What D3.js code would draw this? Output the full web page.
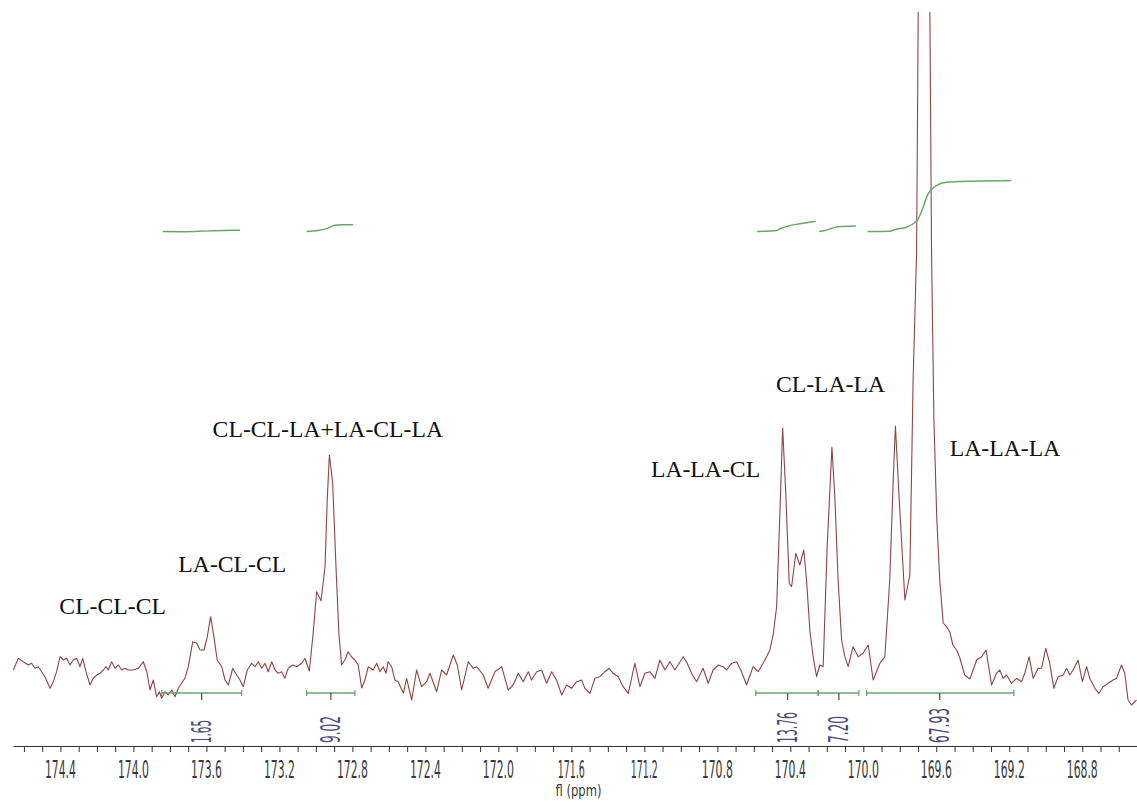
<!DOCTYPE html>
<html>
<head>
<meta charset="utf-8">
<script src="https://cdn.jsdelivr.net/npm/d3@7"></script>
<style>
  body { margin: 0; background: #fff; }
  svg { display: block; }
</style>
</head>
<body>
<svg width="1137" height="802"></svg>
<script>
// 13C NMR carbonyl region (ppm / relative intensity)
const ppm = [174.658,174.631,174.604,174.576,174.558,174.539,174.521,174.503,174.485,174.457,174.439,174.421,174.402,174.384,174.366,174.348,174.330,174.311,174.293,174.278,174.260,174.238,174.220,174.201,174.183,174.165,174.150,174.138,174.119,174.101,174.083,174.064,174.046,174.028,174.001,173.973,173.946,173.927,173.909,173.891,173.873,173.858,173.845,173.827,173.809,173.790,173.772,173.754,173.736,173.718,173.699,173.675,173.653,173.635,173.613,173.595,173.577,173.559,173.541,173.516,173.498,173.480,173.456,173.434,173.416,173.398,173.376,173.352,173.334,173.316,173.297,173.279,173.261,173.242,173.224,173.206,173.188,173.170,173.152,173.127,173.105,173.078,173.060,173.036,173.015,172.996,172.972,172.950,172.938,172.926,172.908,172.890,172.874,172.859,172.841,172.823,172.804,172.786,172.768,172.749,172.731,172.713,172.686,172.667,172.649,172.631,172.616,172.604,172.585,172.567,172.549,172.521,172.503,172.475,172.448,172.421,172.393,172.375,172.338,172.311,172.284,172.247,172.225,172.201,172.165,172.138,172.119,172.083,172.056,172.019,171.982,171.946,171.919,171.891,171.864,171.836,171.818,171.790,171.763,171.736,171.708,171.681,171.653,171.626,171.599,171.571,171.544,171.526,171.498,171.471,171.444,171.416,171.393,171.371,171.343,171.316,171.288,171.252,171.224,171.197,171.170,171.142,171.115,171.087,171.060,171.033,171.015,170.987,170.965,170.941,170.914,170.878,170.850,170.823,170.795,170.768,170.749,170.722,170.694,170.667,170.640,170.604,170.576,170.539,170.512,170.494,170.475,170.457,170.442,170.424,170.406,170.393,170.370,170.348,170.326,170.311,170.293,170.275,170.256,170.238,170.220,170.198,170.172,170.156,170.138,170.119,170.101,170.083,170.056,170.028,170.001,169.973,169.946,169.909,169.882,169.855,169.836,169.824,169.804,169.772,169.745,169.727,169.708,169.699,169.685,169.668,169.652,169.635,169.626,169.613,169.597,169.581,169.562,169.544,169.526,169.509,169.489,169.471,169.444,169.416,169.379,169.352,169.327,169.297,169.270,169.252,169.234,169.215,169.188,169.160,169.133,169.115,169.091,169.069,169.042,169.023,169.000,168.978,168.956,168.932,168.905,168.886,168.868,168.850,168.823,168.799,168.776,168.759,168.731,168.708,168.686,168.658,168.631,168.612,168.585,168.567,168.549,168.530,168.503];
const intensity = [-2.5,3.35,1.65,0,0.85,-1.65,-0.85,-3.35,-5.85,-11.65,-8.35,-3.35,4.15,2.5,3.35,0,2.5,3.35,-0.85,3.35,-3.35,-10,-6.65,-5,-4.15,-2.5,-0.85,-2.5,1.65,-1.65,0,-2.5,-1.65,-2.5,-2.5,-1.65,1.65,-3.35,-12.5,-7.5,-15.85,-13.35,-16.65,-13.35,-15,-12.5,-15.85,-11.65,-9.15,-6.65,-0.85,11.65,10.85,7.5,7.5,14.15,24.15,14.15,2.5,-0.85,-7.5,-10,-1.65,-5,-7.5,-10.85,-2.5,0.85,-0.85,1.65,-1.65,0.85,-3.35,1.65,-2.5,-4.15,-3.35,-6.65,-1.65,0,-0.85,0.85,3.35,-3,15.85,36.65,32.15,49.15,82.5,105,90.85,49.15,15.85,0,2.5,6.65,4,2.5,0,-11.5,-7.5,-0.85,-2.5,0.85,-3.35,-0.85,-4.15,1.65,-0.85,-7.5,-8.35,-14.15,-6.65,-17.5,-2.5,-10.85,-8.35,-4.15,-13.35,-2.5,-5,5,0,-12.5,1.65,-1.65,-0.85,-5,-11.65,-3.35,-0.85,-12.5,-10,-4.15,-8.35,-3.35,-7.5,-3.35,-2.5,-9.15,-3.35,-7.5,-15,-10,-11.65,-8.35,-7.5,-11.65,-14.15,-6.65,-5.85,-3.35,-1.65,-4.15,-5.85,-10.85,-14.15,0.85,-10.85,-4.15,-3.35,-6.65,2.5,-2.5,1.65,-2.5,0,4.15,0.85,-4.15,-8.35,-1.65,-9.15,-2.5,0,-0.85,-2.5,0.85,1.65,-3.35,-10,-0.85,-3.35,2.5,7.5,15,29.15,75.85,118.5,84.15,40.85,39.15,55.85,50,57.5,42.5,17.5,4.15,-5.85,0,-0.85,59.15,108.85,84.15,42.5,12.5,4.15,-0.85,9.15,4.15,5.85,10,-7.5,0.85,4.15,42.5,92.5,119.5,84.15,32.5,45,142.5,206,326,532.5,732.5,532.5,326,206,122.5,72.5,42.5,21,19.15,16.5,10,7.5,3.5,-5,-7,2.5,4.15,7.5,-10,-4.15,-2.5,-6.65,-5,-9.15,-6.65,-8.35,-4.15,4.15,-6.65,-1.65,-1.65,8.35,0.85,-11.65,-5.85,-5,-1.65,-5,-2.5,2.5,-8.35,-0.85,-6.65,-11.65,-14.15,-10.85,-9.15,-7.5,-6.65,0,-4.15,-17.5,-20,-17.5];

// peak assignments: text, left edge (ppm), baseline (intensity)
const peakNames = ["CL-CL-CL", "LA-CL-CL", "CL-CL-LA+LA-CL-LA", "LA-LA-CL", "CL-LA-LA", "LA-LA-LA"];
const peakNamePpm = [174.406, 173.754, 173.566, 171.164, 170.479, 169.526];
const peakNameLevel = [25.5, 46.6, 114.2, 93.9, 136.4, 104.7];

// integration ranges
const intFrom = [173.845, 173.051, 170.589, 170.247, 169.982];
const intTo = [173.407, 172.786, 170.247, 170.024, 169.175];
const intMid = [173.626, 172.918, 170.415, 170.134, 169.581];
const intValues = ["1.65", "9.02", "13.76", "7.20", "67.93"];

// integral curves [ppm, running integral]
const integralCurves = [
  [[173.840, 0], [173.718, -0.2], [173.608, 0.5], [173.498, 1.3], [173.416, 1.65]],
  [[173.051, 0], [172.989, 1.2], [172.934, 4.5], [172.896, 8.2], [172.858, 8.9], [172.795, 9.02]],
  [[170.582, 0], [170.475, 1.3], [170.457, 3.6], [170.421, 6.7], [170.348, 10.3], [170.260, 13.76]],
  [[170.242, 0], [170.211, 1.3], [170.174, 4.0], [170.138, 6.3], [170.041, 7.2]],
  [[169.977, 0], [169.855, 0.4], [169.818, 3.1], [169.763, 5.7], [169.727, 10.3], [169.699, 16.9],
   [169.672, 32.4], [169.645, 50.2], [169.599, 61.3], [169.544, 65.7], [169.398, 67.1], [169.188, 67.93]]
];

const tickLabels = ["174.4", "174.0", "173.6", "173.2", "172.8", "172.4", "172.0", "171.6",
                    "171.2", "170.8", "170.4", "170.0", "169.6", "169.2", "168.8"];

const svg = d3.select("svg");

const x = d3.scaleLinear().domain([174.66, 168.50]).range([13, 1137]);
const y = d3.scaleLinear().domain([0, 100]).range([665, 465]);
const yInt = d3.scaleLinear().domain([0, 68]).range([231.5, 180.5]);

// rough width of the narrow digits font
function labelWidth(s) {
  let w = 0;
  for (const c of s) w += c === "1" ? 4 : c === "." ? 3 : 8;
  return w;
}

svg.append("defs").append("clipPath").attr("id", "plot")
  .append("rect").attr("x", 0).attr("y", 12).attr("width", 1137).attr("height", 740);

// spectrum
const spectrum = ppm.map((p, i) => [p, intensity[i]]);
svg.append("path")
    .datum(spectrum)
    .attr("clip-path", "url(#plot)")
    .attr("fill", "none")
    .attr("stroke", "#8e4545")
    .attr("stroke-width", 1.1)
    .attr("stroke-linejoin", "round")
    .attr("d", d3.line().x(d => x(d[0])).y(d => y(d[1])));

// integral curves
svg.append("g")
  .selectAll("path")
  .data(integralCurves)
  .join("path")
    .attr("fill", "none")
    .attr("stroke", "#67a867")
    .attr("stroke-width", 1.5)
    .attr("d", d3.line().x(d => x(d[0])).y(d => yInt(d[1])).curve(d3.curveMonotoneX));

// integration brackets
const br = svg.append("g").attr("stroke", "#67a867").attr("stroke-width", 1.3);
intFrom.forEach((f, i) => {
  br.append("line").attr("x1", x(f)).attr("x2", x(intTo[i])).attr("y1", 693).attr("y2", 693);
  br.append("line").attr("x1", x(f)).attr("x2", x(f)).attr("y1", 690).attr("y2", 696);
  br.append("line").attr("x1", x(intTo[i])).attr("x2", x(intTo[i])).attr("y1", 690).attr("y2", 696);
  br.append("line").attr("x1", x(intMid[i])).attr("x2", x(intMid[i])).attr("y1", 693).attr("y2", 700)
    .attr("stroke", "#556");
});

// integral values, rotated
svg.append("g")
  .selectAll("text")
  .data(intValues)
  .join("text")
    .attr("transform", (d, i) => `translate(${x(intMid[i]) + 9},743) rotate(-90)`)
    .attr("font-family", "DejaVu Sans Condensed, DejaVu Sans, sans-serif")
    .attr("font-size", 26)
    .attr("fill", "#4a4a80")
    .attr("textLength", d => labelWidth(d))
    .attr("lengthAdjust", "spacingAndGlyphs")
    .text(d => d);

// peak names
svg.append("g")
  .selectAll("text")
  .data(peakNames)
  .join("text")
    .attr("x", (d, i) => x(peakNamePpm[i]))
    .attr("y", (d, i) => y(peakNameLevel[i]))
    .attr("font-family", "Liberation Serif, Times New Roman, serif")
    .attr("font-size", 23.7)
    .attr("fill", "#111")
    .text(d => d);

// axis
const axis = d3.axisBottom(x)
  .tickValues(d3.range(1685, 1747).map(d => d / 10))
  .tickSize(6)
  .tickSizeOuter(0)
  .tickFormat("");
const gAxis = svg.append("g").attr("transform", "translate(0,746)").call(axis);
gAxis.select(".domain").attr("stroke", "#333");
gAxis.selectAll(".tick line").attr("stroke", "#333");

svg.append("g")
  .selectAll("text")
  .data(tickLabels)
  .join("text")
    .attr("x", d => x(+d))
    .attr("y", 778)
    .attr("text-anchor", "middle")
    .attr("font-family", "DejaVu Sans Condensed, DejaVu Sans, sans-serif")
    .attr("font-size", 25)
    .attr("fill", "#3a3a3a")
    .attr("textLength", d => labelWidth(d))
    .attr("lengthAdjust", "spacingAndGlyphs")
    .text(d => d);

svg.append("text")
  .attr("x", 578.5)
  .attr("y", 796)
  .attr("text-anchor", "middle")
  .attr("font-family", "DejaVu Sans Condensed, DejaVu Sans, sans-serif")
  .attr("font-size", 15)
  .attr("fill", "#3a3a3a")
  .attr("textLength", 46)
  .attr("lengthAdjust", "spacingAndGlyphs")
  .text("fl (ppm)");
</script>
</body>
</html>
